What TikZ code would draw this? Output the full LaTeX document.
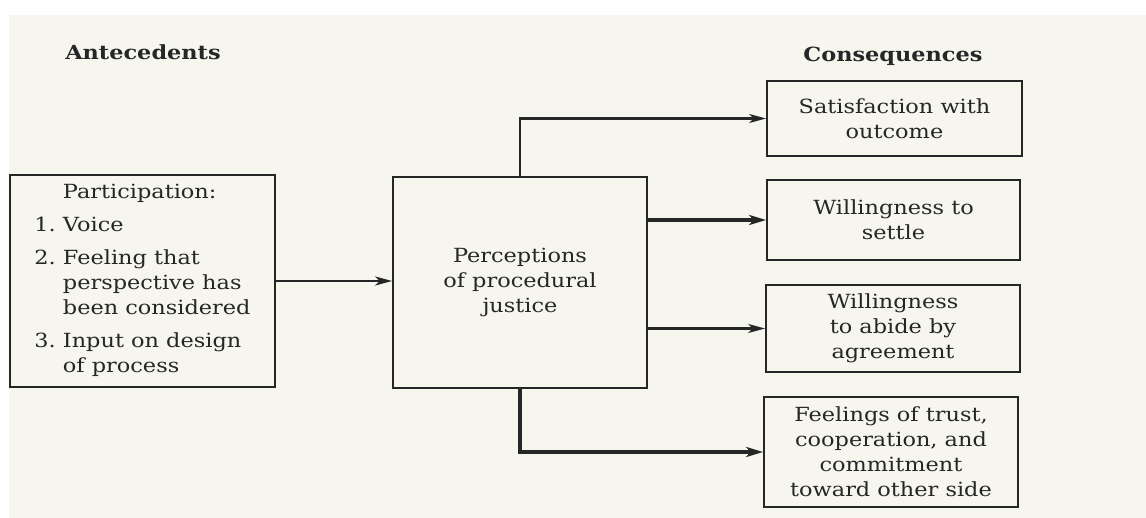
\documentclass[tikz,border=0pt]{standalone}
\usepackage{fontspec}
\setmainfont{DejaVu Serif}[FakeStretch=1.15]
\usetikzlibrary{arrows.meta}
\definecolor{paper}{HTML}{F6F5EE}
\definecolor{ink}{HTML}{262626}
\tikzset{
  box/.style={draw=ink, line width=1.8pt, inner sep=0pt, align=center,
    text=ink, font=\boxfont},
  head/.style={text=ink, font=\boxfont\bfseries, inner sep=0pt},
  thin/.style={draw=ink, line width=2.2pt,
    -{Stealth[length=17pt,width=9pt,inset=4.5pt]}},
  heavy/.style={draw=ink, line width=4.5pt,
    -{Stealth[length=17pt,width=10pt,inset=4.5pt]}},
}
\newcommand{\boxfont}{\fontsize{19.5pt}{25pt}\selectfont}
\begin{document}
\begin{tikzpicture}[x=1pt,y=-1pt]
  \useasboundingbox (0,0) rectangle (1146,518);
  \fill[white] (0,0) rectangle (1146,518);
  \fill[paper] (9,15) rectangle (1146,518);

  % column headings
  \node[head] (hantec) at (143,52) {Antecedents};
  \node[head] (hcons) at (893,56) {Consequences};

  % antecedent box
  \node[box, minimum width=265pt, minimum height=212pt] (part) at (142.5,281)
    {\renewcommand{\arraystretch}{1}%
     \begin{tabular}{@{}r@{\ }l@{}}
       & Participation:\\[8pt]
     1. & Voice\\[8pt]
     2. & Feeling that\\
        & perspective has\\
        & been considered\\[8pt]
     3. & Input on design\\
        & of process
     \end{tabular}};

  % mediator
  \node[box, minimum width=254pt, minimum height=211pt] (pj) at (520,282.5)
    {Perceptions\\of procedural\\justice};

  % consequences
  \node[box, minimum width=255pt, minimum height=75pt] (c1) at (894.5,118.5)
    {Satisfaction with\\outcome};
  \node[box, minimum width=253pt, minimum height=80pt] (c2) at (893.5,220)
    {Willingness to\\settle};
  \node[box, minimum width=254pt, minimum height=87pt] (c3) at (893,328.5)
    {Willingness\\to abide by\\agreement};
  \node[box, minimum width=254pt, minimum height=110pt] (c4) at (891,452)
    {Feelings of trust,\\cooperation, and\\commitment\\toward other side};

  % connectors
  \draw[thin] (part.east) -- (pj.west |- part.east);
  \draw[thin] (pj.north) |- (c1.west);
  \draw[heavy] (pj.east |- c2.west) -- (c2.west);
  \draw[thin] (pj.east |- c3.west) -- (c3.west);
  \draw[heavy] (pj.south) |- (c4.west);
\end{tikzpicture}
\end{document}
